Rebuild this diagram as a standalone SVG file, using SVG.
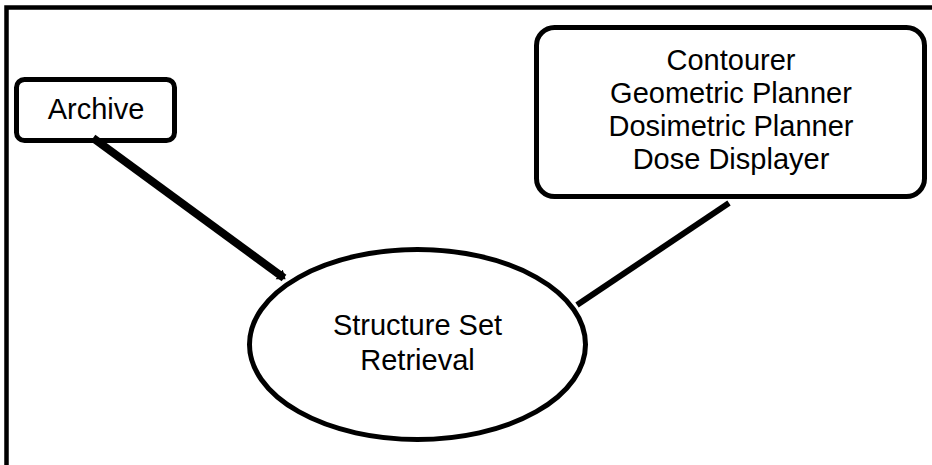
<svg xmlns="http://www.w3.org/2000/svg" width="932" height="465" viewBox="0 0 932 465">
<style>
.node{fill:#fff;stroke:#000;stroke-width:5}
.lbl{font-family:"Liberation Sans",Arial,sans-serif;font-size:29px;fill:#000;text-anchor:middle}
.frame{fill:none;stroke:#000;stroke-width:4.5}
.conn{stroke:#000;fill:none}
</style>
<defs>
<marker id="tip" markerUnits="userSpaceOnUse" markerWidth="14" markerHeight="16" refX="6" refY="8" orient="auto">
<path d="M0,2 L8,8 L0,14 Z" fill="#000"/>
</marker>
</defs>
<g id="frame">
<polyline class="frame" points="6.5,465 6.5,7.5 932,7.5"/>
</g>
<g id="archive">
<rect class="node" x="16.5" y="79.5" width="158" height="61" rx="8"/>
<text class="lbl" x="96" y="119">Archive</text>
</g>
<g id="tools">
<rect class="node" x="536.5" y="27.5" width="388" height="169" rx="18"/>
<text class="lbl" x="731" y="70">Contourer</text>
<text class="lbl" x="731" y="103">Geometric Planner</text>
<text class="lbl" x="731" y="136">Dosimetric Planner</text>
<text class="lbl" x="731" y="169">Dose Displayer</text>
</g>
<g id="retrieval">
<ellipse class="node" cx="417.5" cy="344.5" rx="168" ry="95"/>
<text class="lbl" x="417.5" y="335">Structure Set</text>
<text class="lbl" x="417.5" y="370">Retrieval</text>
</g>
<g id="connectors">
<line class="conn" x1="93" y1="138" x2="284" y2="278" stroke-width="8" marker-end="url(#tip)"/>
<line class="conn" x1="577" y1="305" x2="729" y2="203" stroke-width="6"/>
</g>
</svg>
